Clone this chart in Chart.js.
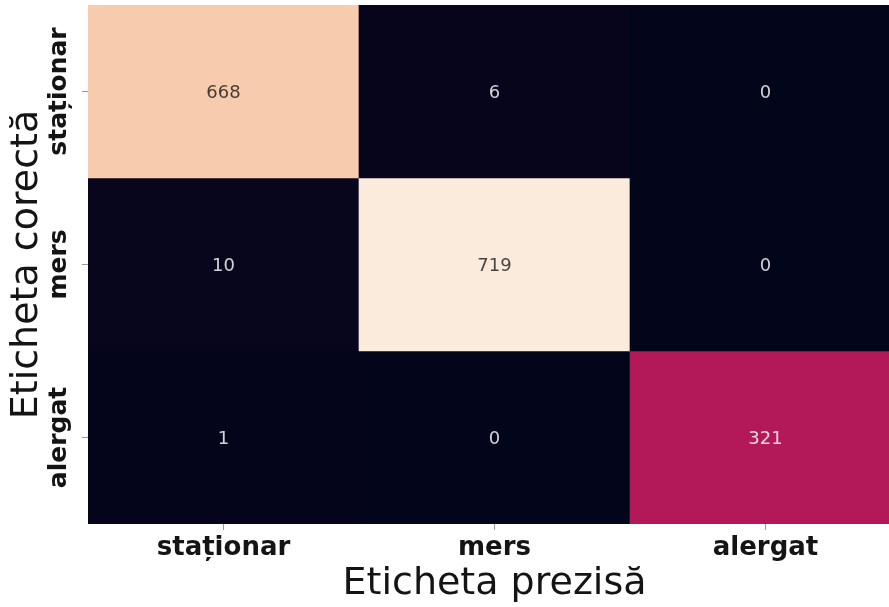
<!DOCTYPE html>
<html><head><meta charset="utf-8">
<script src="https://cdn.jsdelivr.net/npm/chart.js@4/dist/chart.umd.min.js"></script>
<style>
html,body{margin:0;padding:0;background:#fff;overflow:hidden;}
#wrap{position:relative;width:901px;height:607px;}
</style></head><body>
<div id="wrap"><canvas id="c"></canvas></div>
<script>
// ---- data ----
const predictedLabels = ['staționar', 'mers', 'alergat'];
const trueLabels = ['staționar', 'mers', 'alergat'];
const rowStationar = [668, 6, 0];
const rowMers = [10, 719, 0];
const rowAlergat = [1, 0, 321];
const xTitle = 'Eticheta prezisă';
const yTitle = 'Eticheta corectă';

const rows = [rowStationar, rowMers, rowAlergat];
const vmax = Math.max(...rows.flat());

// rocket-like colour anchors (as seen in the picture)
const anchors = [
  [0.00, [3, 5, 26]],
  [0.45, [180, 25, 89]],
  [0.93, [246, 203, 174]],
  [1.00, [250, 235, 221]]
];
function colorFor(v) {
  const t = v / vmax;
  for (let i = 1; i < anchors.length; i++) {
    if (t <= anchors[i][0]) {
      const [t0, c0] = anchors[i - 1], [t1, c1] = anchors[i];
      const f = (t - t0) / (t1 - t0);
      const c = c0.map((a, k) => Math.round(a + (c1[k] - a) * f));
      return `rgb(${c[0]},${c[1]},${c[2]})`;
    }
  }
  const c = anchors[anchors.length - 1][1];
  return `rgb(${c[0]},${c[1]},${c[2]})`;
}

const datasets = rows.map((row, r) => ({
  data: predictedLabels.map((lab, j) => ({ x: lab, y: [r - 0.5, r + 0.5], v: row[j] })),
  backgroundColor: row.map(colorFor),
  borderWidth: 0,
  barPercentage: 1,
  categoryPercentage: 1,
  grouped: false
}));

const cellText = {
  id: 'cellText',
  afterDatasetsDraw(chart) {
    const ctx = chart.ctx;
    ctx.save();
    ctx.font = '18px "DejaVu Sans"';
    ctx.textAlign = 'center';
    ctx.textBaseline = 'middle';
    chart.data.datasets.forEach((ds, i) => {
      const meta = chart.getDatasetMeta(i);
      meta.data.forEach((el, j) => {
        const v = ds.data[j].v;
        const cy = (el.y + el.base) / 2 + 1.5;
        ctx.fillStyle = v / vmax > 0.6 ? 'rgba(0,0,0,0.72)' : 'rgba(255,255,255,0.82)';
        ctx.fillText(String(v), el.x, cy);
      });
    });
    ctx.restore();
  }
};

new Chart(document.getElementById('c'), {
  type: 'bar',
  data: { labels: predictedLabels, datasets },
  options: {
    responsive: true,
    maintainAspectRatio: false,
    animation: false,
    devicePixelRatio: 1,
    layout: { padding: { top: 5, left: 0, right: 0, bottom: 0 } },
    plugins: { legend: { display: false }, tooltip: { enabled: false } },
    scales: {
      x: {
        type: 'category',
        offset: true,
        border: { display: false },
        grid: { offset: false, drawOnChartArea: false, drawTicks: true, tickLength: 6, color: '#999' },
        ticks: { font: { family: 'DejaVu Sans', size: 26, weight: 'bold' }, color: '#141414', padding: 3, maxRotation: 0, minRotation: 0 },
        title: { display: true, text: xTitle, font: { family: 'DejaVu Sans', size: 38 }, color: '#141414', padding: { top: 0, bottom: 0 } },
        afterFit(s) { s.height = 83; }
      },
      y: {
        type: 'linear',
        reverse: true,
        min: -0.5,
        max: 2.5,
        border: { display: false },
        afterBuildTicks(s) { s.ticks = trueLabels.map((_, i) => ({ value: i })); },
        grid: { drawOnChartArea: false, drawTicks: true, tickLength: 6, color: '#999' },
        ticks: {
          callback: (v) => trueLabels[v],
          font: { family: 'DejaVu Sans', size: 25, weight: 'bold' },
          color: '#141414',
          minRotation: 90, maxRotation: 90,
          crossAlign: 'center',
          padding: -42
        },
        title: { display: true, text: yTitle, font: { family: 'DejaVu Sans', size: 38 }, color: '#141414', padding: { top: 4, bottom: 0 } },
        afterFit(s) { s.width = 88; }
      }
    }
  },
  plugins: [cellText]
});
</script>
</body></html>
